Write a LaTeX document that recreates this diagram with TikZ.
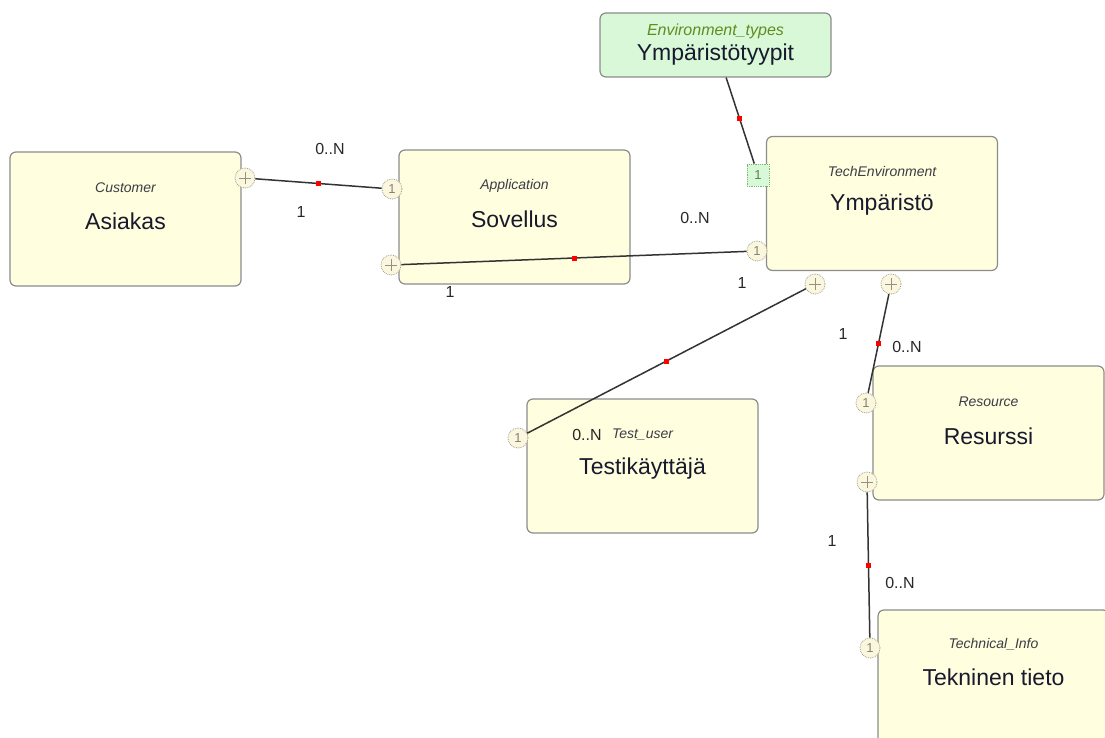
\documentclass[tikz,border=0pt]{standalone}
\usepackage{fontspec}
\setmainfont{Liberation Sans}
\usepackage{tikz}
\usetikzlibrary{positioning}
\usepackage{xcolor}

\definecolor{entfill}{RGB}{255,254,222}
\definecolor{typefill}{RGB}{216,248,216}
\definecolor{boxgray}{RGB}{140,140,140}
\definecolor{markgray}{RGB}{165,162,140}
\definecolor{markfill}{RGB}{250,247,222}
\definecolor{greenmark}{RGB}{110,190,110}
\definecolor{tagcol}{RGB}{60,60,70}
\definecolor{envtagcol}{RGB}{95,140,30}
\definecolor{namecol}{RGB}{25,25,45}
\definecolor{multcol}{RGB}{40,40,40}

\tikzset{
  entbox/.style={draw=boxgray, line width=1.2pt, fill=entfill, rounded corners=6pt,
    minimum width=231pt, minimum height=134pt, inner sep=0pt},
  typebox/.style={entbox, fill=typefill, minimum height=64pt},
  entname/.style={font=\fontsize{23}{23}\selectfont, text=namecol, inner sep=0pt},
  enttag/.style={font=\fontsize{14}{14}\selectfont\itshape, text=tagcol, inner sep=0pt},
  mult/.style={font=\fontsize{16}{16}\selectfont, text=multcol, inner sep=0pt},
  onemark/.style={circle, draw=markgray, densely dotted, line width=0.8pt, fill=markfill,
    minimum size=20pt, inner sep=0pt, font=\fontsize{13}{13}\selectfont, text=markgray!80!black},
  plusmark/.style={onemark, path picture={
    \draw[solid, markgray!90!black, line width=0.9pt] ([xshift=-6pt]path picture bounding box.center) -- ([xshift=6pt]path picture bounding box.center);
    \draw[solid, markgray!90!black, line width=0.9pt] ([yshift=-6pt]path picture bounding box.center) -- ([yshift=6pt]path picture bounding box.center);}},
  greenone/.style={rectangle, draw=greenmark, densely dotted, line width=0.8pt, fill=typefill,
    minimum size=22pt, inner sep=0pt, font=\fontsize{13}{13}\selectfont, text=greenmark!70!black},
  reldot/.style={fill=red, minimum size=5pt, inner sep=0pt},
  rel/.style={line width=1.5pt, draw=black!80}
}

\begin{document}
\begin{tikzpicture}[x=1pt, y=-1pt]
\useasboundingbox (0,0) rectangle (1105,738);
\clip (0,0) rectangle (1105,738);

% entities
\node[entbox] (cus) at (125.5,219) {};
\node[enttag] at ([yshift=-36pt]cus.north) {Customer};
\node[entname] at ([yshift=-70pt]cus.north) {Asiakas};

\node[entbox] (app) at (514.5,217) {};
\node[enttag] at ([yshift=-36pt]app.north) {Application};
\node[entname] at ([yshift=-70pt]app.north) {Sovellus};

\node[entbox] (tec) at (882,203.5) {};
\node[enttag] at ([yshift=-36pt]tec.north) {TechEnvironment};
\node[entname] at ([yshift=-69pt]tec.north) {Ympäristö};

\node[typebox] (env) at (715.5,45) {};
\node[enttag, font=\fontsize{16}{16}\selectfont\itshape, text=envtagcol] at ([yshift=-19pt]env.north) {Environment\_types};
\node[entname] at ([yshift=-42pt]env.north) {Ympäristötyypit};

\node[entbox] (tst) at (642.5,466) {};
\node[enttag] at ([yshift=-36pt]tst.north) {Test\_user};
\node[entname] at ([yshift=-70pt]tst.north) {Testikäyttäjä};

\node[entbox] (res) at (988.5,433) {};
\node[enttag] at ([yshift=-36pt]res.north) {Resource};
\node[entname] at ([yshift=-71pt]res.north) {Resurssi};

\node[entbox] (inf) at (993.5,677) {};
\node[enttag] at ([yshift=-35pt]inf.north) {Technical\_Info};
\node[entname] at ([yshift=-68pt]inf.north) {Tekninen tieto};

% end markers
\node[plusmark] (cusplus) at (245,178) {};
\node[onemark] (appone) at (392,189) {1};
\node[plusmark] (appplus) at (391,265) {};
\node[onemark] (tecone) at (757,251) {1};
\node[greenone] (tecgreen) at (758,175) {1};
\node[plusmark] (tecplusa) at (815,284) {};
\node[plusmark] (tecplusb) at (891,284) {};
\node[onemark] (tstone) at (518,438) {1};
\node[onemark] (resone) at (866,403) {1};
\node[plusmark] (resplus) at (867,482) {};
\node[onemark] (infone) at (870,648) {1};

% relations
\draw[rel] (cusplus) -- node[reldot] {} (appone);
\draw[rel] (appplus) -- node[reldot] {} (tecone);
\draw[rel] (env) -- node[reldot, pos=0.48] {} (tecgreen);
\draw[rel] (tstone) -- node[reldot] {} (tecplusa);
\draw[rel] (tecplusb) -- node[reldot] {} (resone);
\draw[rel] (resplus) -- node[reldot] {} (infone);

% multiplicities
\node[mult] (m1a) at (330,149) {0..N};
\node[mult] (m1b) at (301,212) {1};
\node[mult] (m2a) at (695,218) {0..N};
\node[mult] (m2b) at (450,292) {1};
\node[mult] (m3b) at (742,283) {1};
\node[mult] (m4a) at (587,435) {0..N};
\node[mult] (m5b) at (843,334) {1};
\node[mult] (m5a) at (907,347) {0..N};
\node[mult] (m6b) at (832,541) {1};
\node[mult] (m6a) at (900,583) {0..N};
\end{tikzpicture}
\end{document}
